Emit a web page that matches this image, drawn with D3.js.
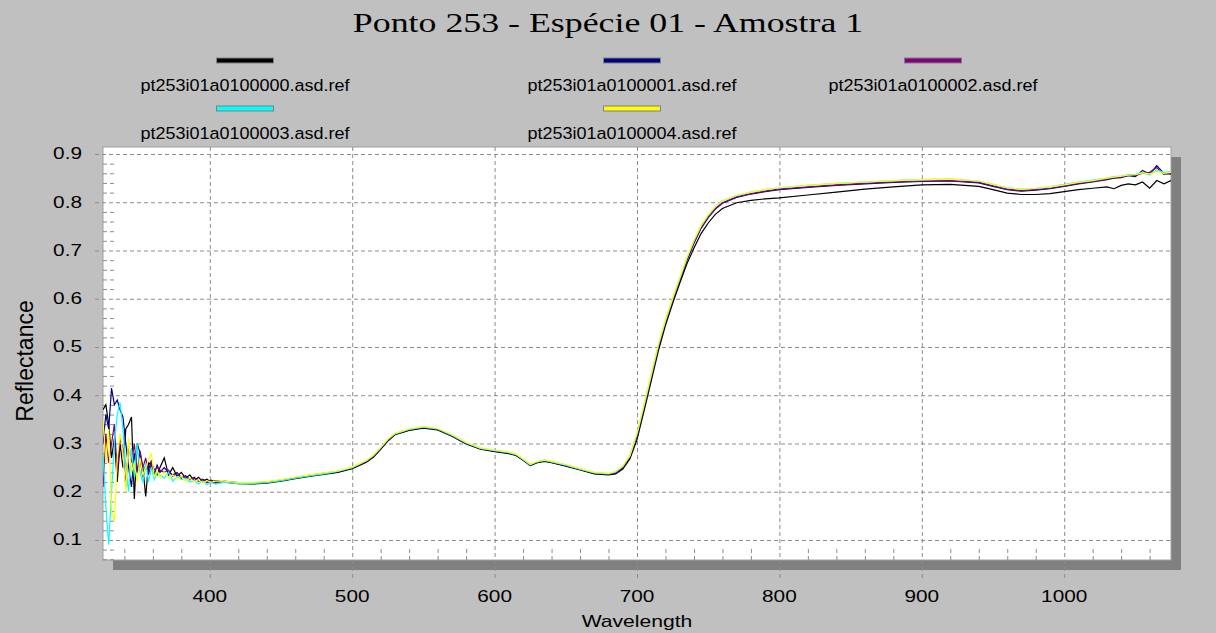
<!DOCTYPE html>
<html>
<head>
<meta charset="utf-8">
<script src="https://cdn.jsdelivr.net/npm/d3@7"></script>
<style>
  html, body { margin: 0; padding: 0; background: #c0c0c0; }
  svg { display: block; }
  text { font-family: "Liberation Sans", Arial, sans-serif; fill: #000; }
</style>
</head>
<body>
<div id="chart"></div>
<script>
// spectra (nm, reflectance)
const wavelengths = [
  325,327,329,331,333,335,337,339,341,343,345,347,349,351,353,355,357,359,361,363,365,
  368,371,374,377,380,383,386,389,392,395,398,401,404,
  410,420,430,440,450,460,470,480,
  490,500,510,515,520,525,530,540,550,560,570,580,590,600,610,615,620,625,630,635,640,
  650,660,670,680,685,690,
  695,700,705,710,715,720,725,730,735,740,745,750,755,760,
  770,780,790,800,820,840,860,880,900,920,940,950,960,970,980,990,1000,1010,1020,1030,
  1035,1040,1045,1050,1055,1060,1065,1070,1075
];

const ref00 = [
  0.37,0.38,0.34,0.27,0.31,0.22,0.30,0.25,0.33,0.34,0.355,0.185,0.30,0.28,0.25,0.19,0.26,0.255,0.24,0.235,0.25,
  0.27,0.235,0.25,0.232,0.24,0.228,0.235,0.222,0.23,0.222,0.226,0.219,0.223,
  0.220,0.217,0.216,0.218,0.222,0.227,0.232,0.236,
  0.240,0.248,0.261,0.272,0.288,0.305,0.318,0.327,0.332,0.328,0.315,0.299,0.288,0.283,0.279,0.275,0.265,0.254,0.260,0.263,0.260,
  0.253,0.245,0.237,0.235,0.237,0.247,
  0.268,0.308,0.368,0.430,0.492,0.545,0.590,0.632,0.672,0.705,0.735,0.757,0.775,0.787,
  0.799,0.804,0.807,0.809,0.815,0.821,0.827,0.832,0.836,0.837,0.833,0.826,0.819,0.816,0.816,0.818,0.822,0.826,0.829,0.832,
  0.828,0.835,0.838,0.836,0.842,0.829,0.845,0.838,0.845
];
const ref01 = [
  0.30,0.36,0.33,0.415,0.38,0.39,0.37,0.355,0.30,0.25,0.21,0.28,0.24,0.27,0.23,0.255,0.245,0.265,0.235,0.255,0.24,
  0.25,0.24,0.235,0.24,0.228,0.233,0.225,0.23,0.222,0.226,0.22,0.224,0.22,
  0.221,0.218,0.217,0.219,0.223,0.228,0.233,0.237,
  0.241,0.249,0.262,0.273,0.289,0.306,0.319,0.328,0.333,0.329,0.316,0.300,0.289,0.284,0.280,0.276,0.266,0.255,0.261,0.264,0.261,
  0.254,0.246,0.238,0.236,0.238,0.249,
  0.271,0.315,0.375,0.437,0.499,0.551,0.596,0.638,0.679,0.715,0.746,0.768,0.786,0.798,
  0.810,0.817,0.822,0.826,0.831,0.835,0.838,0.841,0.843,0.844,0.840,0.833,0.826,0.823,0.825,0.828,0.833,0.838,0.842,0.847,
  0.850,0.851,0.855,0.853,0.866,0.858,0.876,0.860,0.858
];
const ref02 = [
  0.21,0.32,0.26,0.30,0.34,0.24,0.31,0.29,0.21,0.30,0.26,0.30,0.24,0.285,0.25,0.27,0.235,0.26,0.245,0.25,0.245,
  0.24,0.245,0.232,0.238,0.23,0.232,0.226,0.228,0.222,0.225,0.219,0.222,0.218,
  0.222,0.219,0.218,0.220,0.224,0.229,0.234,0.238,
  0.242,0.250,0.263,0.274,0.290,0.307,0.320,0.329,0.334,0.330,0.317,0.301,0.290,0.285,0.281,0.277,0.267,0.256,0.262,0.265,0.262,
  0.255,0.247,0.239,0.237,0.239,0.250,
  0.272,0.316,0.376,0.438,0.500,0.552,0.597,0.639,0.680,0.716,0.747,0.769,0.787,0.799,
  0.811,0.818,0.823,0.827,0.832,0.836,0.839,0.842,0.844,0.845,0.841,0.834,0.827,0.824,0.826,0.829,0.834,0.839,0.843,0.848,
  0.851,0.852,0.856,0.855,0.860,0.862,0.872,0.858,0.860
];
const ref03 = [
  0.28,0.17,0.09,0.20,0.30,0.36,0.385,0.33,0.25,0.20,0.29,0.23,0.30,0.24,0.22,0.26,0.22,0.25,0.225,0.24,0.235,
  0.228,0.24,0.222,0.232,0.225,0.228,0.22,0.224,0.216,0.222,0.215,0.219,0.216,
  0.220,0.217,0.217,0.219,0.223,0.228,0.233,0.237,
  0.242,0.250,0.264,0.275,0.291,0.308,0.320,0.329,0.334,0.330,0.317,0.301,0.290,0.285,0.281,0.277,0.267,0.256,0.262,0.265,0.262,
  0.255,0.247,0.239,0.237,0.241,0.252,
  0.274,0.320,0.380,0.442,0.504,0.555,0.600,0.642,0.684,0.720,0.751,0.773,0.791,0.803,
  0.814,0.821,0.826,0.830,0.835,0.839,0.842,0.845,0.847,0.848,0.844,0.837,0.830,0.827,0.829,0.832,0.837,0.842,0.846,0.850,
  0.853,0.854,0.857,0.858,0.862,0.857,0.867,0.862,0.863
];
const ref04 = [
  0.35,0.26,0.33,0.16,0.14,0.27,0.32,0.28,0.20,0.31,0.24,0.26,0.22,0.27,0.235,0.25,0.265,0.28,0.23,0.245,0.23,
  0.24,0.228,0.235,0.226,0.232,0.222,0.228,0.221,0.225,0.218,0.223,0.22,0.222,
  0.222,0.219,0.219,0.221,0.225,0.230,0.235,0.239,
  0.243,0.251,0.265,0.276,0.292,0.309,0.321,0.330,0.335,0.331,0.318,0.302,0.291,0.286,0.282,0.278,0.268,0.257,0.263,0.266,0.263,
  0.256,0.248,0.240,0.238,0.242,0.253,
  0.275,0.321,0.381,0.443,0.505,0.556,0.601,0.643,0.685,0.721,0.752,0.774,0.791,0.803,
  0.814,0.821,0.826,0.830,0.835,0.839,0.842,0.845,0.847,0.848,0.844,0.837,0.830,0.827,0.829,0.832,0.836,0.841,0.845,0.850,
  0.852,0.854,0.856,0.857,0.861,0.859,0.864,0.860,0.862
];

const seriesNames = [
  'pt253i01a0100000.asd.ref',
  'pt253i01a0100001.asd.ref',
  'pt253i01a0100002.asd.ref',
  'pt253i01a0100003.asd.ref',
  'pt253i01a0100004.asd.ref'
];
const seriesValues = [ref00, ref01, ref02, ref03, ref04];
const seriesColors = ['#000000', '#000080', '#800080', '#00ffff', '#ffff00'];

const xTicks = [400, 500, 600, 700, 800, 900, 1000];
const yTicks = [0.1, 0.2, 0.3, 0.4, 0.5, 0.6, 0.7, 0.8, 0.9];

const W = 1216, H = 633;
const plot = { left: 103, top: 147, right: 1171, bottom: 560 };

const svg = d3.select('#chart').append('svg')
  .attr('width', W)
  .attr('height', H);

svg.append('rect').attr('width', W).attr('height', H).attr('fill', '#c0c0c0');

const x = d3.scaleLinear().domain([325, 1075]).range([plot.left, plot.right]);
const y = d3.scaleLinear().domain([0.0585, 0.9145]).range([plot.bottom, plot.top]);

// title (the original is stretched sideways a bit)
svg.append('text')
  .attr('transform', `translate(${W / 2},32) scale(1.28,1)`)
  .attr('text-anchor', 'middle')
  .style('font-family', '"Liberation Serif", "Times New Roman", serif')
  .style('font-size', '28px')
  .text('Ponto 253 - Espécie 01 - Amostra 1');

// legend, 3 columns
const legendCols = [245, 632, 933];
seriesNames.forEach((name, i) => {
  const cx = legendCols[i % 3];
  const row = Math.floor(i / 3);
  const g = svg.append('g').attr('transform', `translate(${cx},${58 + row * 48})`);
  g.append('rect')
    .attr('x', -28.5).attr('y', 0)
    .attr('width', 57).attr('height', 5)
    .attr('fill', seriesColors[i])
    .attr('stroke', '#808080')
    .attr('stroke-width', 1);
  g.append('text')
    .attr('transform', 'translate(0,33) scale(1.06,1)')
    .attr('text-anchor', 'middle')
    .style('font-size', '17px')
    .text(name);
});

// drop shadow + plot area
svg.append('rect')
  .attr('x', plot.left + 10).attr('y', plot.top + 10)
  .attr('width', plot.right - plot.left).attr('height', plot.bottom - plot.top)
  .attr('fill', '#808080');
svg.append('rect')
  .attr('x', plot.left).attr('y', plot.top)
  .attr('width', plot.right - plot.left).attr('height', plot.bottom - plot.top)
  .attr('fill', '#ffffff')
  .attr('stroke', '#a0a0a0')
  .attr('stroke-width', 1);

const dash = '4,3';
const gridColor = '#8c8c8c';

// major grid, running out past the frame like ticks
const gx = svg.append('g')
  .attr('transform', `translate(0,578)`)
  .call(d3.axisBottom(x).tickValues(xTicks).tickSize(-(578 - plot.top)).tickFormat(''));
const gy = svg.append('g')
  .attr('transform', `translate(95,0)`)
  .call(d3.axisLeft(y).tickValues(yTicks).tickSize(-(plot.right - 95)).tickFormat(''));

// minor ticks inside the frame
const xMinor = d3.range(340, 1075, 20).filter(v => v % 100 !== 0);
const yMinor = d3.range(0.06, 0.91, 0.02).map(v => +v.toFixed(2)).filter(v => Math.round(v * 100) % 10 !== 0);
const mx = svg.append('g')
  .attr('transform', `translate(0,${plot.bottom})`)
  .call(d3.axisBottom(x).tickValues(xMinor).tickSize(-12).tickFormat(''));
const my = svg.append('g')
  .attr('transform', `translate(${plot.left},0)`)
  .call(d3.axisLeft(y).tickValues(yMinor).tickSize(-12).tickFormat(''));

[gx, gy, mx, my].forEach(g => {
  g.select('.domain').remove();
  g.selectAll('line')
    .attr('stroke', gridColor)
    .attr('stroke-dasharray', dash);
});

// tick labels
svg.append('g').selectAll('text')
  .data(xTicks)
  .join('text')
  .attr('transform', d => `translate(${x(d)},602) scale(1.3,1)`)
  .attr('text-anchor', 'middle')
  .style('font-size', '16px')
  .text(d => d);

svg.append('g').selectAll('text')
  .data(yTicks)
  .join('text')
  .attr('transform', d => `translate(82,${y(d) + 5.5}) scale(1.3,1)`)
  .attr('text-anchor', 'end')
  .style('font-size', '16px')
  .text(d => d3.format('.1f')(d));

// axis titles
svg.append('text')
  .attr('transform', `translate(${(plot.left + plot.right) / 2},627) scale(1.32,1)`)
  .attr('text-anchor', 'middle')
  .style('font-size', '16px')
  .text('Wavelength');
svg.append('text')
  .attr('transform', `translate(33,361) rotate(-90)`)
  .attr('text-anchor', 'middle')
  .style('font-size', '23px')
  .text('Reflectance');

// spectra
svg.append('clipPath').attr('id', 'clip')
  .append('rect')
  .attr('x', plot.left).attr('y', plot.top)
  .attr('width', plot.right - plot.left).attr('height', plot.bottom - plot.top);

const line = d3.line()
  .x((d, i) => x(wavelengths[i]))
  .y(d => y(d));

svg.append('g').attr('clip-path', 'url(#clip)')
  .selectAll('path')
  .data(seriesValues)
  .join('path')
  .attr('d', d => line(d))
  .attr('fill', 'none')
  .attr('stroke', (d, i) => seriesColors[i])
  .attr('stroke-width', 1.2);
</script>
</body>
</html>
